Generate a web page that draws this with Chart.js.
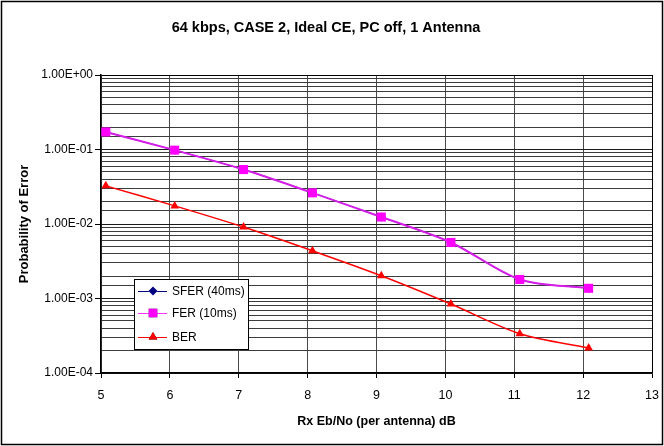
<!DOCTYPE html>
<html>
<head>
<meta charset="utf-8">
<script src="https://cdn.jsdelivr.net/npm/chart.js@4/dist/chart.umd.min.js"></script>
<style>
  html, body { margin: 0; padding: 0; background: #fff; }
  #wrap { width: 664px; height: 446px; }
</style>
</head>
<body>
<div id="wrap"><canvas id="c" width="664" height="446"></canvas></div>
<script>
// Rx Eb/No operating points (dB)
const ebNo = [5.07, 6.07, 7.07, 8.07, 9.07, 10.08, 11.08, 12.08];
// 40 ms super-frame error rate (coincides with the 10 ms FER curve)
const sfer = [0.172, 0.098, 0.0538, 0.0262, 0.0124, 0.00565, 0.0018, 0.00137];
// 10 ms frame error rate
const fer = [0.172, 0.098, 0.0538, 0.0262, 0.0124, 0.00565, 0.0018, 0.00137];
// bit error rate
const ber = [0.0325, 0.0175, 0.0091, 0.00437, 0.00202, 0.000843, 0.000337, 0.000217];

const xTicks = [5, 6, 7, 8, 9, 10, 11, 12, 13];
const yMin = 1e-4, yMax = 1;

const FONT = "'Liberation Sans', Arial, sans-serif";

function pts(ys) { return ebNo.map((x, i) => ({ x: x, y: ys[i] })); }

function isDecade(v) {
  const l = Math.log10(v);
  return Math.abs(l - Math.round(l)) < 1e-6;
}
function sciLabel(v) {
  const e = Math.round(Math.log10(v));
  const s = e < 0 ? '-' : '+';
  const a = Math.abs(e);
  return '1.00E' + s + (a < 10 ? '0' : '') + a;
}

// white page with a thin frame around the whole chart
const framePlugin = {
  id: 'frame',
  beforeDraw(chart) {
    const ctx = chart.ctx;
    ctx.save();
    ctx.fillStyle = '#fff';
    ctx.fillRect(0, 0, chart.width, chart.height);
    ctx.strokeStyle = '#000';
    ctx.lineWidth = 1.5;
    ctx.strokeRect(1.5, 1.5, chart.width - 3, chart.height - 3);
    ctx.restore();
  }
};

// boxed legend sitting inside the lower-left of the plot
const legendBoxPlugin = {
  id: 'legendBox',
  afterDraw(chart) {
    const ctx = chart.ctx;
    const bx = 134, by = 279, bw = 114, bh = 70;
    ctx.save();
    ctx.fillStyle = '#fff';
    ctx.fillRect(bx, by, bw, bh);
    ctx.strokeStyle = '#000';
    ctx.lineWidth = 1;
    ctx.strokeRect(bx + 0.5, by + 0.5, bw, bh);
    const rows = [
      { label: 'SFER (40ms)', line: '#000080', fill: '#000080', style: 'rectRot', r: 4.5, y: 291 },
      { label: 'FER (10ms)', line: '#ff33ff', fill: '#ff00ff', style: 'rect', r: 6, y: 313 },
      { label: 'BER', line: '#ff0000', fill: '#ff0000', style: 'triangle', r: 5, y: 337 }
    ];
    ctx.font = '12px ' + FONT;
    ctx.textBaseline = 'middle';
    ctx.textAlign = 'left';
    rows.forEach(r => {
      ctx.strokeStyle = r.line;
      ctx.lineWidth = 1;
      ctx.beginPath();
      ctx.moveTo(138, r.y + 0.5);
      ctx.lineTo(167, r.y + 0.5);
      ctx.stroke();
      Chart.helpers.drawPoint(ctx, { pointStyle: r.style, radius: r.r, borderWidth: 0 }, 153, r.y);
      ctx.fillStyle = r.fill;
      ctx.fill();
      ctx.fillStyle = '#000';
      ctx.fillText(r.label, 172, r.y + 1);
    });
    ctx.restore();
  }
};

new Chart(document.getElementById('c'), {
  type: 'line',
  data: {
    datasets: [
      {
        label: 'FER (10ms)',
        data: pts(fer),
        borderColor: '#d41ee8',
        backgroundColor: '#ff00ff',
        borderWidth: 2,
        pointStyle: 'rect',
        pointRadius: 6.4,
        pointBorderWidth: 0,
        pointBackgroundColor: '#ff00ff',
        tension: 0.3,
        order: 0
      },
      {
        label: 'SFER (40ms)',
        data: pts(sfer),
        borderColor: '#000080',
        backgroundColor: '#000080',
        borderWidth: 0.8,
        pointStyle: 'rectRot',
        pointRadius: 4.5,
        pointBorderWidth: 0,
        pointBackgroundColor: '#000080',
        tension: 0.3,
        order: 1
      },
      {
        label: 'BER',
        data: pts(ber),
        borderColor: '#ff0000',
        backgroundColor: '#ff0000',
        borderWidth: 1.5,
        pointStyle: 'triangle',
        pointRadius: 5,
        pointBorderWidth: 0,
        pointBackgroundColor: '#ff0000',
        tension: 0.3,
        order: 2
      }
    ]
  },
  options: {
    responsive: false,
    animation: false,
    layout: { padding: { left: 0, right: 12, top: 0, bottom: 0 } },
    plugins: {
      legend: { display: false },
      tooltip: { enabled: false },
      title: {
        display: true,
        text: '64 kbps, CASE 2, Ideal CE, PC off, 1 Antenna',
        color: '#000',
        font: { family: FONT, size: 14.5, weight: 'bold' },
        padding: { top: 19, bottom: 38.6 }
      }
    },
    scales: {
      x: {
        type: 'linear',
        min: 5,
        max: 13,
        afterBuildTicks(scale) { scale.ticks = xTicks.map(v => ({ value: v })); },
        afterFit(scale) {
          scale.height = 446 - 373;
          scale.paddingRight = 0;
          scale.paddingLeft = 0;
        },
        ticks: {
          color: '#000',
          font: { family: FONT, size: 12.5 },
          padding: 10,
          maxRotation: 0,
          autoSkip: false
        },
        grid: {
          color: ctx => (ctx.index === xTicks.length - 1 ? '#000' : '#4a4a4a'),
          lineWidth: 1,
          tickLength: 5,
          tickColor: '#000'
        },
        border: { color: '#000', width: 1.5 },
        title: {
          display: true,
          text: 'Rx Eb/No (per antenna) dB',
          color: '#000',
          font: { family: FONT, size: 12.5, weight: 'bold' },
          padding: { top: 17, bottom: 17 }
        }
      },
      y: {
        type: 'logarithmic',
        min: yMin,
        max: yMax,
        afterFit(scale) { scale.width = 101; },
        ticks: {
          color: '#000',
          font: { family: FONT, size: 12 },
          padding: 2,
          autoSkip: false,
          callback: v => (isDecade(v) ? sciLabel(v) : '')
        },
        grid: {
          color: ctx => {
            const v = ctx.tick ? ctx.tick.value : 0;
            if (Math.abs(v - yMax) < 1e-9) return '#000';
            return isDecade(v) ? '#1a1a1a' : '#3c3c3c';
          },
          lineWidth: 1,
          tickLength: 6,
          tickColor: ctx => (ctx.tick && isDecade(ctx.tick.value) ? '#000' : 'rgba(0,0,0,0)')
        },
        border: { color: '#000', width: 1.5 },
        title: {
          display: true,
          text: 'Probability of Error',
          color: '#000',
          font: { family: FONT, size: 13, weight: 'bold' },
          padding: { top: 17, bottom: 17 }
        }
      }
    }
  },
  plugins: [framePlugin, legendBoxPlugin]
});
</script>
</body>
</html>
